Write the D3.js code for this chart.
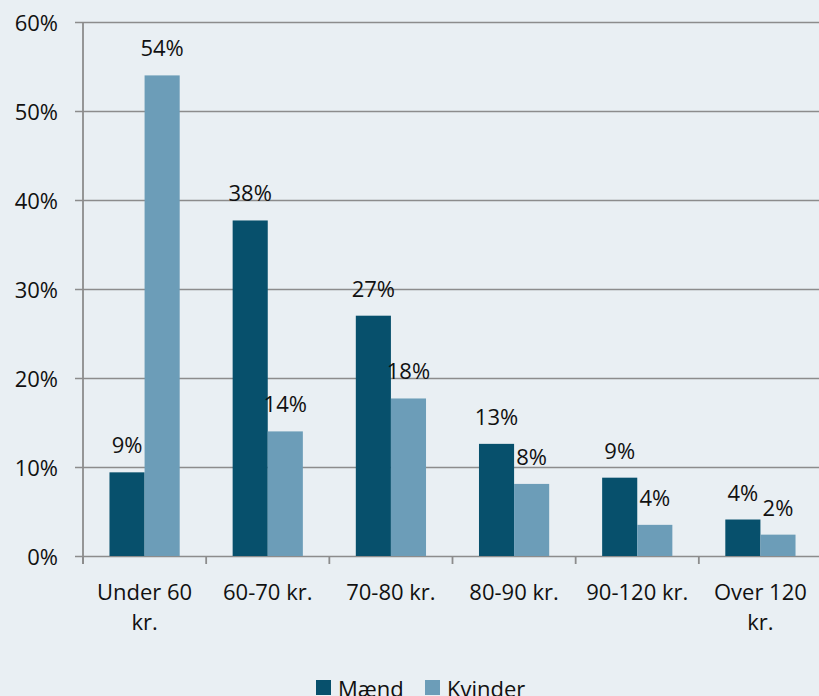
<!DOCTYPE html>
<html lang="da">
<head>
<meta charset="UTF-8">
<title>Mænd og kvinder fordelt på pris</title>
<script src="https://d3js.org/d3.v7.min.js"></script>
<style>
    body { margin: 0; background: #e9eff3; }
    svg { display: block; }
    text { font-family: "Open Sans", "Noto Sans", sans-serif; font-size: 22px; fill: #111; }
</style>
</head>
<body>
<div id="chart"></div>
<script>
    // data
    const categories = ["Under 60 kr.", "60-70 kr.", "70-80 kr.", "80-90 kr.", "90-120 kr.", "Over 120 kr."];
    const series = ["Mænd", "Kvinder"];
    const maend = [9.4, 37.7, 27.0, 12.6, 8.8, 4.1];
    const kvinder = [54.0, 14.0, 17.7, 8.1, 3.5, 2.4];
    const yTicks = [0, 10, 20, 30, 40, 50, 60];

    const colors = { "Mænd": "#07506c", "Kvinder": "#6c9db8" };
    const values = { "Mænd": maend, "Kvinder": kvinder };

    const width = 819, height = 696;
    const svg = d3.select("#chart").append("svg")
        .attr("width", width)
        .attr("height", height);

    svg.append("rect").attr("width", width).attr("height", height).attr("fill", "#e9eff3");

    const x0 = d3.scaleBand().domain(categories).range([83, 822]);
    const groupW = x0.bandwidth() * 0.57;
    const x1 = d3.scaleBand().domain(series).range([0, groupW]);
    const y = d3.scaleLinear().domain([0, 60]).range([556, 22]);

    // gridlines + y axis
    const yAxis = d3.axisLeft(y)
        .tickValues(yTicks)
        .tickFormat(d => d + "%")
        .tickSize(-(822 - 75))
        .tickPadding(0);
    const gy = svg.append("g").attr("transform", "translate(75,0)").call(yAxis);
    gy.select(".domain").remove();
    gy.selectAll(".tick line").attr("stroke", "#8c8c8c").attr("stroke-width", 1.6)
        .attr("x1", 0).attr("x2", 822 - 75);
    gy.selectAll(".tick text")
        .attr("x", -17)
        .attr("dy", null)
        .attr("y", 8)
        .style("font-size", "22px")
        .attr("fill", "#111");

    // vertical axis line
    svg.append("line")
        .attr("x1", 83).attr("x2", 83)
        .attr("y1", y(60)).attr("y2", y(0) + 8)
        .attr("stroke", "#8c8c8c").attr("stroke-width", 1.8);

    // category ticks
    const boundaries = categories.map(c => x0(c)).concat([x0.range()[1]]);
    svg.selectAll(".ctick").data(boundaries).enter().append("line")
        .attr("x1", d => d).attr("x2", d => d)
        .attr("y1", y(0)).attr("y2", y(0) + 8)
        .attr("stroke", "#8c8c8c").attr("stroke-width", 1.8);

    // bars
    const groups = svg.selectAll(".grp").data(categories).enter().append("g")
        .attr("transform", c => `translate(${x0(c) + (x0.bandwidth() - groupW) / 2},0)`);

    groups.selectAll("rect")
        .data((c, i) => series.map(s => ({ s, v: values[s][i] })))
        .enter().append("rect")
        .attr("x", d => x1(d.s))
        .attr("y", d => y(d.v))
        .attr("width", x1.bandwidth())
        .attr("height", d => y(0) - y(d.v))
        .attr("fill", d => colors[d.s]);

    groups.selectAll(".lbl")
        .data((c, i) => series.map(s => ({ s, v: values[s][i] })))
        .enter().append("text")
        .attr("x", d => x1(d.s) + x1.bandwidth() / 2)
        .attr("y", d => y(d.v) - 19)
        .attr("text-anchor", "middle")
        .text(d => Math.round(d.v) + "%");

    // category labels, wrapped when wider than the band
    const catText = svg.selectAll(".cat").data(categories).enter().append("text")
        .attr("text-anchor", "middle")
        .attr("x", c => x0(c) + x0.bandwidth() / 2)
        .attr("y", 600);
    catText.each(function (c) {
        const t = d3.select(this);
        t.text(c);
        if (this.getComputedTextLength() > x0.bandwidth() - 6) {
            const words = c.split(" ");
            const last = words.pop();
            t.text(null);
            const cx = x0(c) + x0.bandwidth() / 2;
            t.append("tspan").attr("x", cx).attr("y", 600).text(words.join(" "));
            t.append("tspan").attr("x", cx).attr("y", 630).text(last);
        }
    });

    // legend
    const legend = svg.append("g");
    const legX = [316, 425];
    series.forEach((s, i) => {
        legend.append("rect")
            .attr("x", legX[i]).attr("y", 680)
            .attr("width", 15).attr("height", 15)
            .attr("fill", colors[s]);
        legend.append("text")
            .attr("x", legX[i] + 22).attr("y", 697)
            .text(s);
    });
</script>
</body>
</html>
